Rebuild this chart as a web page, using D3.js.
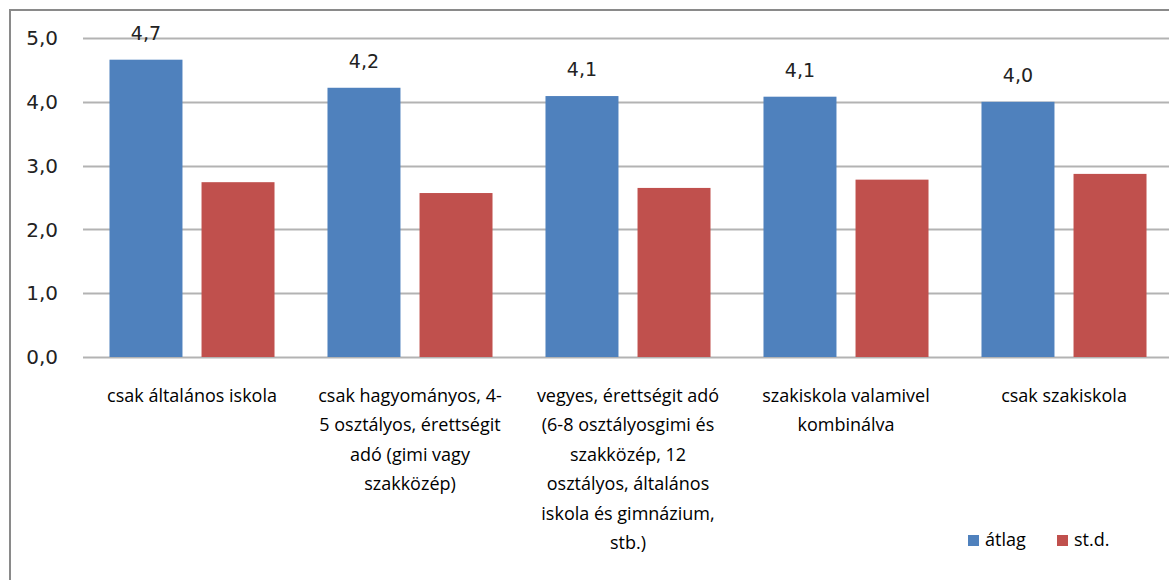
<!DOCTYPE html>
<html>
<head>
<meta charset="utf-8">
<script src="https://cdn.jsdelivr.net/npm/d3@7"></script>
<style>
  body { margin: 0; background: #fff; }
  svg { display: block; }
  .cat { font-family: "Open Sans", sans-serif; font-size: 18px; fill: #000; }
  .num { font-family: "DejaVu Sans", sans-serif; font-size: 20px; fill: #222; }
  .val { font-family: "DejaVu Sans", sans-serif; font-size: 19px; fill: #222; }
</style>
</head>
<body>
<svg width="1169" height="580"></svg>
<script>
//Category labels, already split into lines as in the picture
var categories = [
  ["csak általános iskola"],
  ["csak hagyományos, 4-", "5 osztályos, érettségit", "adó (gimi vagy", "szakközép)"],
  ["vegyes, érettségit  adó", "(6-8 osztályosgimi és", "szakközép, 12", "osztályos, általános", "iskola és gimnázium,", "stb.)"],
  ["szakiskola valamivel", "kombinálva"],
  ["csak szakiskola"]
];
var seriesNames = ["átlag", "st.d."];
var atlag = [4.66, 4.22, 4.09, 4.08, 4.00];
var std = [2.74, 2.57, 2.65, 2.78, 2.87];
var atlagLabels = ["4,7", "4,2", "4,1", "4,1", "4,0"];
var yTicks = [0, 1, 2, 3, 4, 5];

var colors = ["#4f81bd", "#c0504d"];

var svg = d3.select("svg");

//Outer frame of the chart area (cut at right and bottom)
svg.append("path")
  .attr("d", "M10,600 L10,10 L1200,10")
  .attr("fill", "none")
  .attr("stroke", "#8a8a8a")
  .attr("stroke-width", 2);

//Plot area
var plotLeft = 83, plotTop = 38, plotBottom = 357;
var step = 218;
var plotRight = plotLeft + step * categories.length;

var y = d3.scaleLinear().domain([0, 5]).range([plotBottom, plotTop]);
var x0 = d3.scaleBand()
  .domain(d3.range(categories.length))
  .range([plotLeft, plotRight])
  .paddingInner(0.243)
  .paddingOuter(0.1215);
var x1 = d3.scaleBand()
  .domain([0, 1])
  .range([0, x0.bandwidth()])
  .paddingInner(0.207);

//Gridlines
svg.append("g").selectAll("line")
  .data(yTicks)
  .join("line")
  .attr("x1", plotLeft).attr("x2", 1169)
  .attr("y1", function(d){ return Math.round(y(d)) + 0.5; })
  .attr("y2", function(d){ return Math.round(y(d)) + 0.5; })
  .attr("stroke", "#b3b3b3")
  .attr("stroke-width", 2);

//Y axis labels
var yFmt = function(d){ return d3.format(".1f")(d).replace(".", ","); };
svg.append("g").selectAll("text")
  .data(yTicks)
  .join("text")
  .attr("class", "num")
  .attr("x", 58)
  .attr("y", function(d){ return y(d); })
  .attr("dy", "0.36em")
  .attr("text-anchor", "end")
  .text(yFmt);

//Bars
var rows = categories.map(function(c, i){ return [atlag[i], std[i]]; });
var groups = svg.append("g").selectAll("g")
  .data(rows)
  .join("g")
  .attr("transform", function(d, i){ return "translate(" + x0(i) + ",0)"; });

groups.selectAll("rect")
  .data(function(d){ return d; })
  .join("rect")
  .attr("x", function(d, j){ return x1(j); })
  .attr("y", function(d){ return y(d); })
  .attr("width", x1.bandwidth())
  .attr("height", function(d){ return y(0) - y(d); })
  .attr("fill", function(d, j){ return colors[j]; });

//Value labels above the átlag bars
svg.append("g").selectAll("text")
  .data(atlag)
  .join("text")
  .attr("class", "val")
  .attr("x", function(d, i){ return x0(i) + x1(0) + x1.bandwidth() / 2; })
  .attr("y", function(d){ return y(d) - 20; })
  .attr("text-anchor", "middle")
  .text(function(d, i){ return atlagLabels[i]; });

//Category labels
svg.append("g").selectAll("text")
  .data(categories)
  .join("text")
  .attr("class", "cat")
  .attr("text-anchor", "middle")
  .attr("transform", function(d, i){ return "translate(" + (x0(i) + x0.bandwidth() / 2) + ",402)"; })
  .selectAll("tspan")
  .data(function(d){ return d; })
  .join("tspan")
  .attr("x", 0)
  .attr("y", function(d, k){ return k * 29.4; })
  .text(function(d){ return d; });

//Legend
var legend = svg.append("g").attr("transform", "translate(968,534)");
var lx = [0, 89];
seriesNames.forEach(function(name, i){
  legend.append("rect")
    .attr("x", lx[i]).attr("y", 1)
    .attr("width", 11).attr("height", 11)
    .attr("fill", colors[i]);
  legend.append("text")
    .attr("class", "cat")
    .attr("x", lx[i] + 17)
    .attr("y", 12)
    .text(name);
});
</script>
</body>
</html>
